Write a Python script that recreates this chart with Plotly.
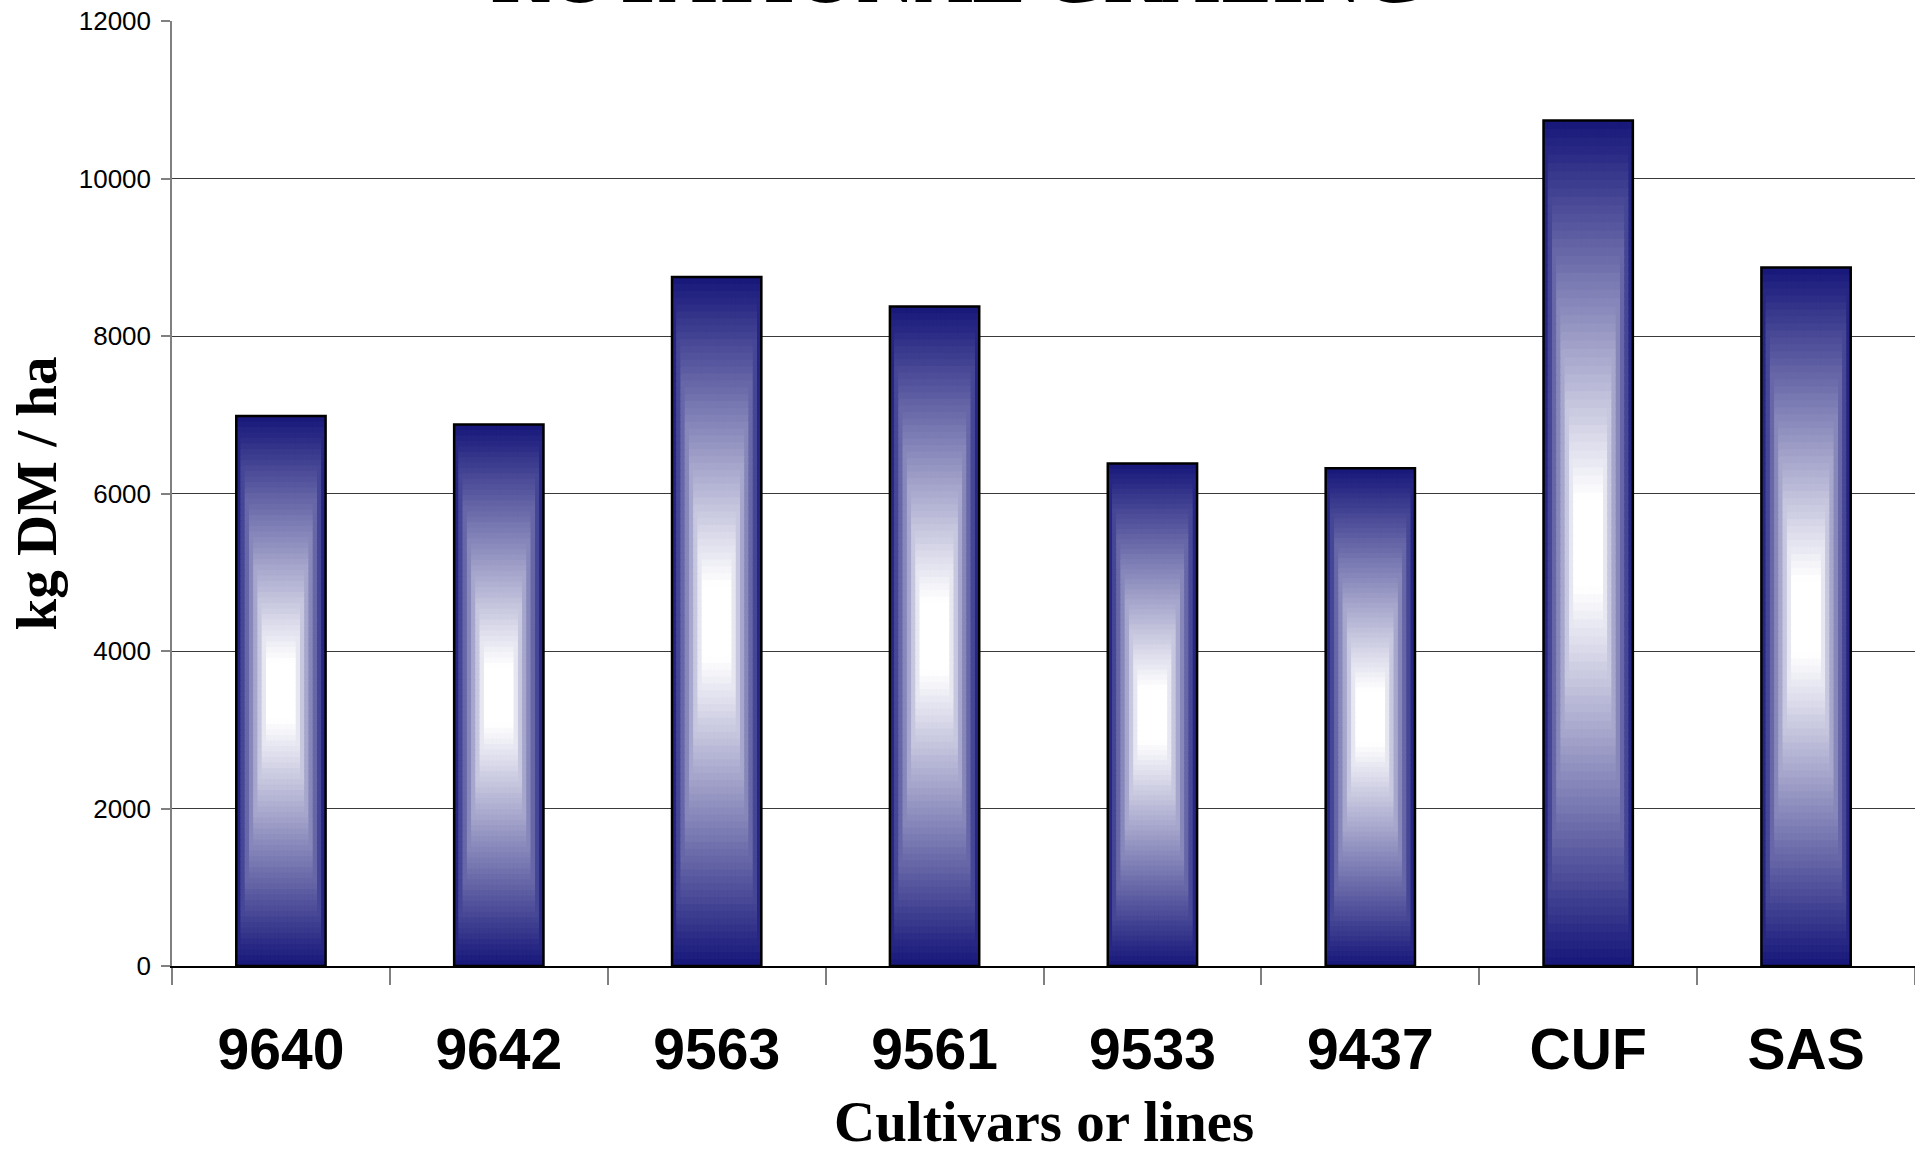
import plotly.graph_objects as go

# ---- data ----
categories = ["9640", "9642", "9563", "9561", "9533", "9437", "CUF", "SAS"]
yield_kg_dm_ha = [6985, 6875, 8750, 8375, 6380, 6320, 10735, 8870]
y_ticks = [0, 2000, 4000, 6000, 8000, 10000, 12000]

title_text = "ROTATIONAL GRAZING"
x_title = "Cultivars or lines"
y_title = "kg DM / ha"

# ---- styling ----
BAR_W = 0.41
N_ROWS = 100
N_COLS = 21
DARK = (22, 22, 122)
SANS = "Liberation Sans, Arial, sans-serif"
SERIF = "Liberation Serif, Times New Roman, serif"


def shade(t, u):
    # rectangular "from centre" gradient: navy at the rim, white in the middle
    v = 1 - abs(2 * t - 1)
    h = abs(2 * u - 1)
    bv = min(1.0, 1.12 * v)
    bh = min(1.0, 1.45 * (1 - h))
    b = max(0.0, min(1.0, min(bv, bh)))
    r = DARK[0] + (255 - DARK[0]) * b
    g = DARK[1] + (255 - DARK[1]) * b
    bl = DARK[2] + (255 - DARK[2]) * b
    return f"rgb({r:.0f},{g:.0f},{bl:.0f})"


fig = go.Figure()

# gradient fill built from stacked slices of each bar
col_w = BAR_W / N_COLS
for k in range(N_COLS):
    u = (k + 0.5) / N_COLS
    xs, bases, heights, colors = [], [], [], []
    for cat, val in zip(categories, yield_kg_dm_ha):
        step = val / N_ROWS
        for j in range(N_ROWS):
            t = (j + 0.5) / N_ROWS
            xs.append(cat)
            bases.append(step * j)
            heights.append(step * (1.8 if j < N_ROWS - 1 else 1.0))
            colors.append(shade(t, u))
    w = col_w * (1.8 if k < N_COLS - 1 else 1.0)
    fig.add_trace(go.Bar(
        x=xs, y=heights, base=bases,
        width=w, offset=-BAR_W / 2 + k * col_w,
        marker=dict(color=colors, line=dict(width=0)),
        hoverinfo="skip", showlegend=False,
    ))

# outline of each bar
fig.add_trace(go.Bar(
    x=categories, y=yield_kg_dm_ha, width=BAR_W, offset=-BAR_W / 2,
    marker=dict(color="rgba(0,0,0,0)", line=dict(color="black", width=2.5)),
    showlegend=False, name="kg DM / ha",
))

fig.update_layout(
    width=1915, height=1151,
    margin=dict(l=172, r=0, t=21, b=185),
    paper_bgcolor="white", plot_bgcolor="white",
    barmode="overlay",
    showlegend=False,
    xaxis=dict(
        type="category",
        categoryorder="array", categoryarray=categories,
        tickson="boundaries",
        ticks="outside", ticklen=17, tickcolor="#808080", tickwidth=1.5,
        showline=True, linecolor="black", linewidth=1.5,
        showgrid=False, zeroline=False,
        tickfont=dict(family=SANS, size=57, color="black", weight="bold"),
        ticklabelstandoff=33,
    ),
    yaxis=dict(
        range=[0, 12000], tickvals=y_ticks,
        ticktext=[str(v) for v in y_ticks],
        ticks="outside", ticklen=9, tickcolor="#808080", tickwidth=1.5,
        showline=True, linecolor="#808080", linewidth=1.5,
        showgrid=True, gridcolor="#3a3a3a", gridwidth=1,
        zeroline=False,
        tickfont=dict(family=SANS, size=26, color="black"),
        ticklabelstandoff=5,
    ),
    annotations=[
        dict(text=title_text, xref="paper", yref="paper",
             x=(957.5 - 172) / 1743, y=1.0, xanchor="center", yanchor="bottom",
             showarrow=False,
             font=dict(family=SERIF, size=80, color="black", weight="bold")),
        dict(text=x_title, xref="paper", yref="paper",
             x=0.5, y=-0.165, xanchor="center", yanchor="middle",
             showarrow=False,
             font=dict(family=SERIF, size=57, color="black", weight="bold")),
        dict(text=y_title, xref="paper", yref="paper",
             x=(36 - 172) / 1743, y=0.5, xanchor="center", yanchor="middle",
             textangle=-90, showarrow=False,
             font=dict(family=SERIF, size=57, color="black", weight="bold")),
    ],
)

fig.write_html("out.html")
